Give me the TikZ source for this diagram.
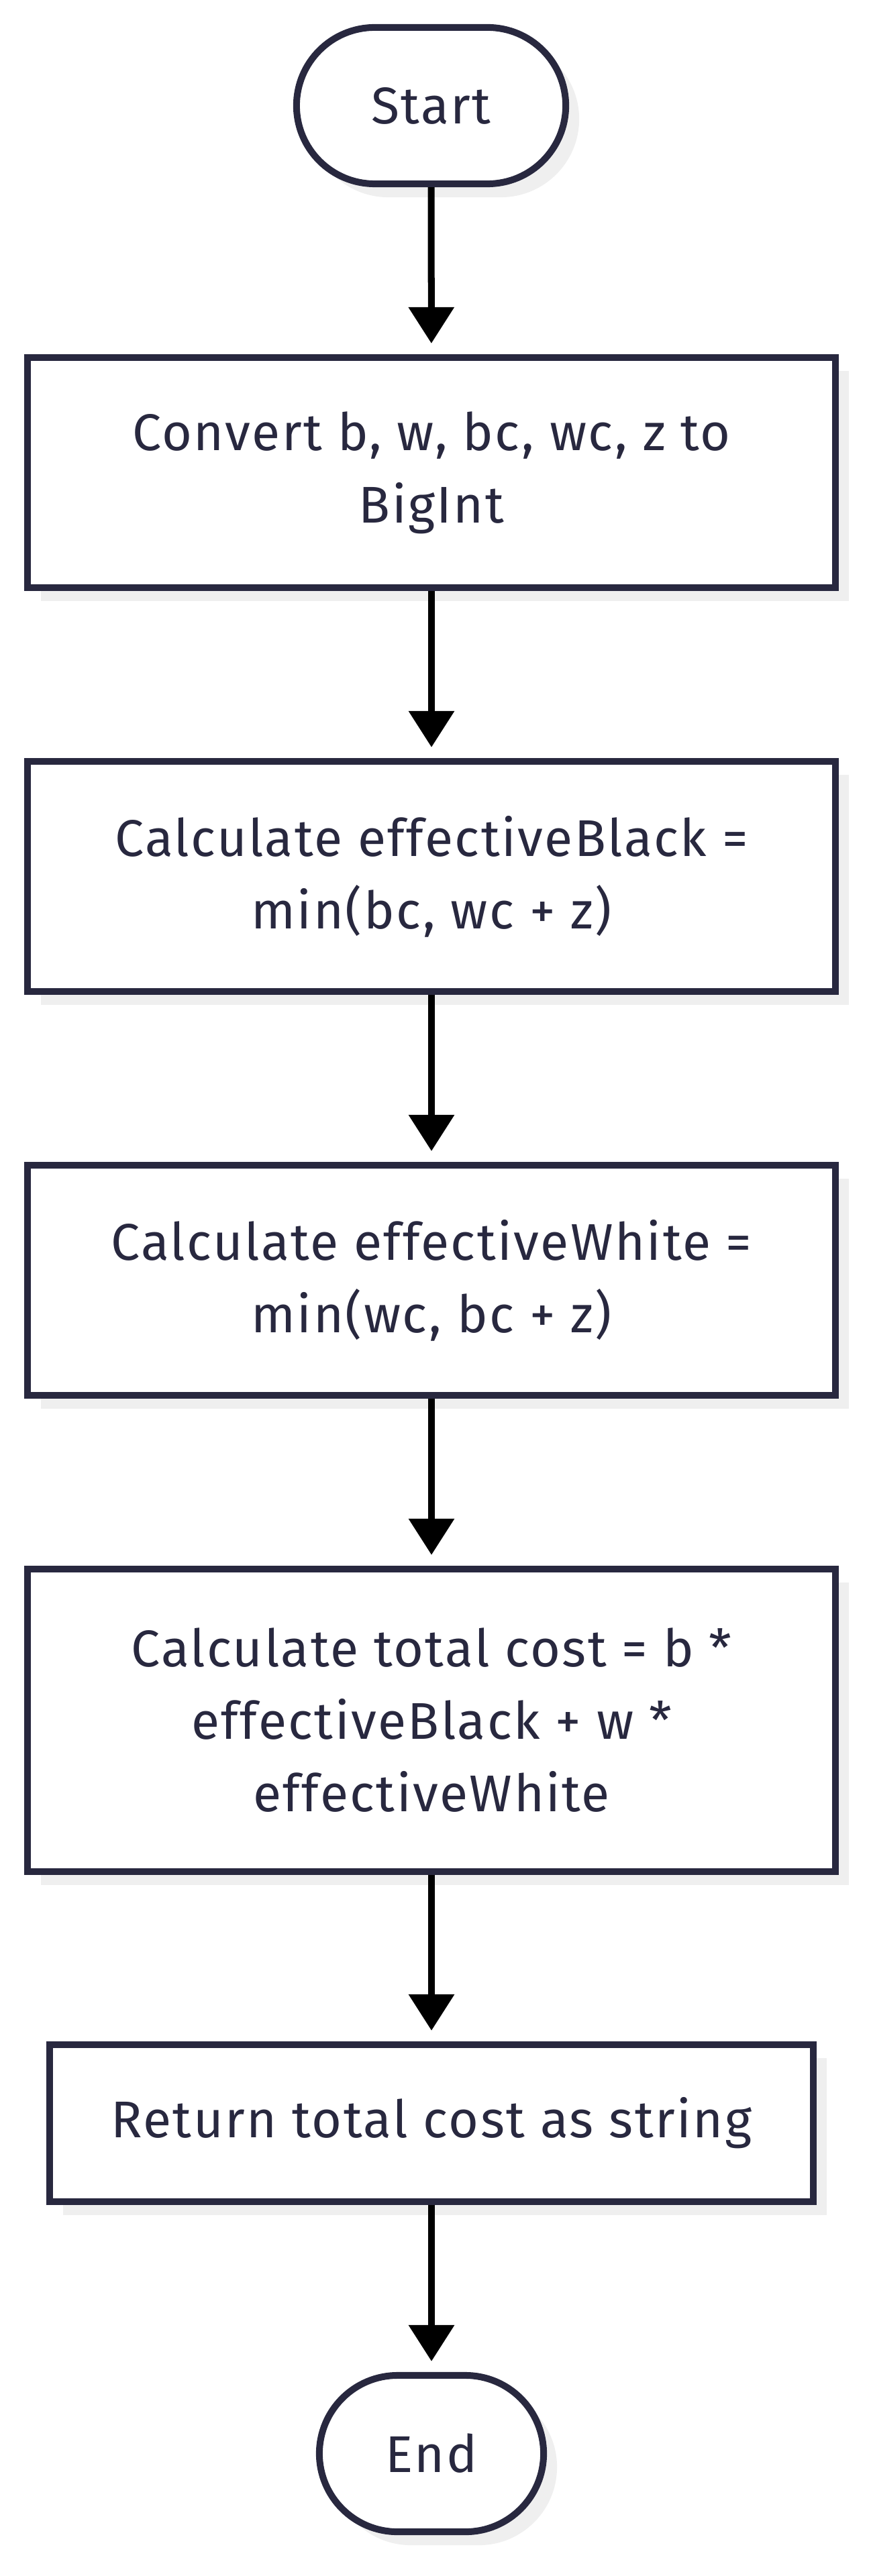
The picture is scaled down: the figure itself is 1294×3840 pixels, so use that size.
\documentclass[tikz,border=0pt]{standalone}
\usepackage{fontspec}
\setmainfont[LetterSpace=3.2]{Fira Sans}
\usetikzlibrary{arrows.meta,shadows}
\definecolor{nodeline}{HTML}{28283F}
\definecolor{shadowgray}{HTML}{EFEFEF}
\begin{document}
\begin{tikzpicture}[x=0.01cm,y=-0.01cm,
	box/.style={draw=nodeline,line width=0.1cm,fill=white,text=nodeline,align=center,inner sep=0pt,
		font=\fontsize{21.9}{30.7}\selectfont,
		drop shadow={shadow xshift=0.2cm,shadow yshift=-0.2cm,fill=shadowgray,opacity=1}},
	terminal/.style={box,rounded corners=1.165cm},
	flow/.style={line width=0.1cm,-{Triangle[length=0.54cm,width=0.66cm]},shorten >=0.16cm}]
	\useasboundingbox (0,0) rectangle (1294,3840);

	\node[terminal,minimum width=4.01cm,minimum height=2.33cm] (start) at (642.5,157.5) {Start};
	\node[box,minimum width=12.04cm,minimum height=3.43cm] (convert) at (643,704.5) {Convert b, w, bc, wc, z to\\BigInt};
	\node[box,minimum width=12.04cm,minimum height=3.43cm] (black) at (643,1306.5) {Calculate effectiveBlack =\\min(bc, wc + z)};
	\node[box,minimum width=12.04cm,minimum height=3.43cm] (white) at (643,1908.5) {Calculate effectiveWhite =\\min(wc, bc + z)};
	\node[box,minimum width=12.04cm,minimum height=4.51cm] (total) at (643,2564.5) {Calculate total cost = b *\\effectiveBlack + w *\\effectiveWhite};
	\node[box,minimum width=11.38cm,minimum height=2.34cm] (ret) at (643,3165) {Return total cost as string};
	\node[terminal,minimum width=3.34cm,minimum height=2.33cm] (stop) at (643,3657.5) {End};

	\draw[flow] (start) -- (convert);
	\draw[flow] (convert) -- (black);
	\draw[flow] (black) -- (white);
	\draw[flow] (white) -- (total);
	\draw[flow] (total) -- (ret);
	\draw[flow] (ret) -- (stop);
\end{tikzpicture}
\end{document}
